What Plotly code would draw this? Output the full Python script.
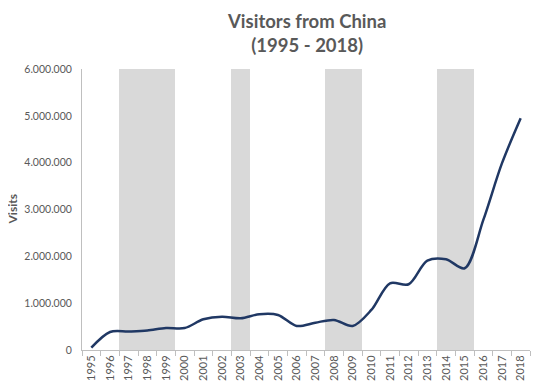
import plotly.graph_objects as go

years = [str(y) for y in range(1995, 2019)]
visits = [50000, 385000, 395000, 415000, 470000, 470000, 655000, 712000, 677000,
          763000, 748000, 513000, 583000, 641000, 513000, 855000, 1425000, 1404000,
          1908000, 1937000, 1745000, 2778000, 3989000, 4950000]
shaded_years = ["1997", "1998", "1999", "2003", "2008", "2009", "2014", "2015"]
shade_height = 6000000
y_tickvals = [0, 1000000, 2000000, 3000000, 4000000, 5000000, 6000000]
y_ticktext = ["0", "1.000.000", "2.000.000", "3.000.000", "4.000.000", "5.000.000", "6.000.000"]
title_text = "<b>Visitors from China<br>(1995 - 2018)</b>"
y_title_text = "<b>Visits</b>"

grey = "#595959"
font_family = "Lato, 'Liberation Sans', sans-serif"

fig = go.Figure()
fig.add_trace(go.Bar(
    x=years,
    y=[shade_height if y in shaded_years else 0 for y in years],
    width=1,
    marker=dict(color="#d9d9d9", line=dict(width=0)),
    hoverinfo="skip",
    showlegend=False,
))
fig.add_trace(go.Scatter(
    x=years, y=visits, mode="lines",
    line=dict(color="#203864", width=2.5, shape="spline", smoothing=0.9),
    showlegend=False,
))

fig.update_layout(
    width=541, height=391,
    margin=dict(l=74, r=19, t=61, b=49, autoexpand=False),
    paper_bgcolor="white", plot_bgcolor="white",
    bargap=0,
    font=dict(family=font_family, color=grey),
    annotations=[
        dict(
            text=title_text, xref="paper", yref="paper",
            x=0.5, xanchor="center", y=1 + 61 / 281, yanchor="top",
            showarrow=False, align="center",
            font=dict(family=font_family, size=18.5, color=grey),
        ),
        dict(
            text=y_title_text, xref="paper", yref="paper",
            x=-70 / 448, xanchor="center", y=0.5, yanchor="middle",
            textangle=-90, showarrow=False, borderpad=0,
            font=dict(family=font_family, size=12, color=grey),
        ),
    ],
)
fig.update_xaxes(
    type="category", range=[-0.5, 23.5], automargin=False,
    tickangle=-90, tickson="boundaries",
    ticks="outside", ticklen=5, tickcolor="#bfbfbf",
    showline=True, linecolor="#bfbfbf", linewidth=1,
    showgrid=False, zeroline=False,
    tickfont=dict(family=font_family, size=11, color=grey),
)
fig.update_yaxes(
    range=[0, 6000000], automargin=False,
    tickvals=y_tickvals, ticktext=y_ticktext,
    showline=True, linecolor="#bfbfbf", linewidth=1,
    showgrid=False, zeroline=False,
    ticks="", ticklabelstandoff=7,
    tickfont=dict(family=font_family, size=10.5, color=grey),
)

fig.write_html("out.html")
